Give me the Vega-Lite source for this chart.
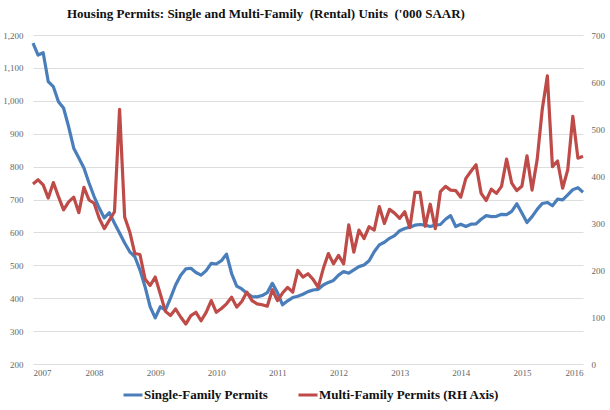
{
  "$schema": "https://vega.github.io/schema/vega-lite/v6.json",
  "autosize": {"type": "none"},
  "width": 550,
  "height": 329,
  "padding": {"left": 33, "top": 35, "right": 27, "bottom": 46},
  "background": "white",
  "title": {
    "text": "Housing Permits: Single and Multi-Family \u00a0(Rental) Units \u00a0('000 SAAR)",
    "font": "Liberation Serif",
    "fontSize": 13,
    "fontWeight": "bold",
    "color": "#111111",
    "anchor": "start",
    "frame": "group",
    "dx": 34,
    "offset": 10
  },
  "config": {
    "font": "Liberation Serif",
    "view": {"stroke": null},
    "axis": {"labelFont": "Liberation Serif", "labelFontSize": 9, "labelColor": "#666666"},
    "legend": {"labelFont": "Liberation Serif", "titleFont": "Liberation Serif"}
  },
  "datasets": {
    "single": [
      {"m": 0, "v": 1175}, {"m": 1, "v": 1139}, {"m": 2, "v": 1146}, {"m": 3, "v": 1058}, {"m": 4, "v": 1043},
      {"m": 5, "v": 997}, {"m": 6, "v": 978}, {"m": 7, "v": 921}, {"m": 8, "v": 856}, {"m": 9, "v": 826},
      {"m": 10, "v": 796}, {"m": 11, "v": 750}, {"m": 12, "v": 709}, {"m": 13, "v": 674}, {"m": 14, "v": 644},
      {"m": 15, "v": 660}, {"m": 16, "v": 628}, {"m": 17, "v": 598}, {"m": 18, "v": 568}, {"m": 19, "v": 541},
      {"m": 20, "v": 526}, {"m": 21, "v": 486}, {"m": 22, "v": 435}, {"m": 23, "v": 374}, {"m": 24, "v": 340},
      {"m": 25, "v": 374}, {"m": 26, "v": 364}, {"m": 27, "v": 400}, {"m": 28, "v": 440}, {"m": 29, "v": 470},
      {"m": 30, "v": 489}, {"m": 31, "v": 491}, {"m": 32, "v": 478}, {"m": 33, "v": 470}, {"m": 34, "v": 484},
      {"m": 35, "v": 506}, {"m": 36, "v": 504}, {"m": 37, "v": 514}, {"m": 38, "v": 534}, {"m": 39, "v": 475},
      {"m": 40, "v": 437}, {"m": 41, "v": 428}, {"m": 42, "v": 415}, {"m": 43, "v": 405}, {"m": 44, "v": 404},
      {"m": 45, "v": 408}, {"m": 46, "v": 417}, {"m": 47, "v": 445}, {"m": 48, "v": 417}, {"m": 49, "v": 380},
      {"m": 50, "v": 392}, {"m": 51, "v": 402}, {"m": 52, "v": 406}, {"m": 53, "v": 412}, {"m": 54, "v": 420},
      {"m": 55, "v": 425}, {"m": 56, "v": 427}, {"m": 57, "v": 440}, {"m": 58, "v": 448}, {"m": 59, "v": 454},
      {"m": 60, "v": 470}, {"m": 61, "v": 481}, {"m": 62, "v": 476}, {"m": 63, "v": 486}, {"m": 64, "v": 496},
      {"m": 65, "v": 501}, {"m": 66, "v": 514}, {"m": 67, "v": 541}, {"m": 68, "v": 562}, {"m": 69, "v": 570},
      {"m": 70, "v": 582}, {"m": 71, "v": 590}, {"m": 72, "v": 605}, {"m": 73, "v": 612}, {"m": 74, "v": 616},
      {"m": 75, "v": 622}, {"m": 76, "v": 624}, {"m": 77, "v": 622}, {"m": 78, "v": 618}, {"m": 79, "v": 622},
      {"m": 80, "v": 624}, {"m": 81, "v": 640}, {"m": 82, "v": 651}, {"m": 83, "v": 618}, {"m": 84, "v": 625},
      {"m": 85, "v": 618}, {"m": 86, "v": 625}, {"m": 87, "v": 626}, {"m": 88, "v": 640}, {"m": 89, "v": 651},
      {"m": 90, "v": 648}, {"m": 91, "v": 649}, {"m": 92, "v": 655}, {"m": 93, "v": 654}, {"m": 94, "v": 664},
      {"m": 95, "v": 687}, {"m": 96, "v": 659}, {"m": 97, "v": 630}, {"m": 98, "v": 648}, {"m": 99, "v": 670},
      {"m": 100, "v": 688}, {"m": 101, "v": 691}, {"m": 102, "v": 681}, {"m": 103, "v": 701}, {"m": 104, "v": 699},
      {"m": 105, "v": 714}, {"m": 106, "v": 730}, {"m": 107, "v": 736}, {"m": 108, "v": 722}
    ],
    "multi": [
      {"m": 0, "v": 383}, {"m": 1, "v": 392}, {"m": 2, "v": 381}, {"m": 3, "v": 353}, {"m": 4, "v": 386},
      {"m": 5, "v": 356}, {"m": 6, "v": 328}, {"m": 7, "v": 345}, {"m": 8, "v": 355}, {"m": 9, "v": 322},
      {"m": 10, "v": 376}, {"m": 11, "v": 349}, {"m": 12, "v": 342}, {"m": 13, "v": 310}, {"m": 14, "v": 288},
      {"m": 15, "v": 306}, {"m": 16, "v": 324}, {"m": 17, "v": 542}, {"m": 18, "v": 313}, {"m": 19, "v": 281},
      {"m": 20, "v": 235}, {"m": 21, "v": 233}, {"m": 22, "v": 181}, {"m": 23, "v": 167}, {"m": 24, "v": 185},
      {"m": 25, "v": 149}, {"m": 26, "v": 112}, {"m": 27, "v": 103}, {"m": 28, "v": 117}, {"m": 29, "v": 100},
      {"m": 30, "v": 85}, {"m": 31, "v": 103}, {"m": 32, "v": 110}, {"m": 33, "v": 92}, {"m": 34, "v": 110},
      {"m": 35, "v": 135}, {"m": 36, "v": 110}, {"m": 37, "v": 118}, {"m": 38, "v": 128}, {"m": 39, "v": 142},
      {"m": 40, "v": 121}, {"m": 41, "v": 133}, {"m": 42, "v": 153}, {"m": 43, "v": 135}, {"m": 44, "v": 128},
      {"m": 45, "v": 126}, {"m": 46, "v": 123}, {"m": 47, "v": 158}, {"m": 48, "v": 135}, {"m": 49, "v": 151},
      {"m": 50, "v": 163}, {"m": 51, "v": 153}, {"m": 52, "v": 199}, {"m": 53, "v": 185}, {"m": 54, "v": 192},
      {"m": 55, "v": 180}, {"m": 56, "v": 163}, {"m": 57, "v": 203}, {"m": 58, "v": 235}, {"m": 59, "v": 213},
      {"m": 60, "v": 231}, {"m": 61, "v": 213}, {"m": 62, "v": 296}, {"m": 63, "v": 238}, {"m": 64, "v": 285},
      {"m": 65, "v": 267}, {"m": 66, "v": 292}, {"m": 67, "v": 285}, {"m": 68, "v": 335}, {"m": 69, "v": 299},
      {"m": 70, "v": 329}, {"m": 71, "v": 321}, {"m": 72, "v": 310}, {"m": 73, "v": 324}, {"m": 74, "v": 290},
      {"m": 75, "v": 365}, {"m": 76, "v": 365}, {"m": 77, "v": 293}, {"m": 78, "v": 340}, {"m": 79, "v": 288},
      {"m": 80, "v": 367}, {"m": 81, "v": 378}, {"m": 82, "v": 370}, {"m": 83, "v": 369}, {"m": 84, "v": 355},
      {"m": 85, "v": 395}, {"m": 86, "v": 410}, {"m": 87, "v": 424}, {"m": 88, "v": 363}, {"m": 89, "v": 348},
      {"m": 90, "v": 372}, {"m": 91, "v": 363}, {"m": 92, "v": 378}, {"m": 93, "v": 436}, {"m": 94, "v": 385},
      {"m": 95, "v": 369}, {"m": 96, "v": 378}, {"m": 97, "v": 443}, {"m": 98, "v": 370}, {"m": 99, "v": 435},
      {"m": 100, "v": 542}, {"m": 101, "v": 613}, {"m": 102, "v": 420}, {"m": 103, "v": 432}, {"m": 104, "v": 374},
      {"m": 105, "v": 413}, {"m": 106, "v": 527}, {"m": 107, "v": 438}, {"m": 108, "v": 442}
    ]
  },
  "layer": [
    {
      "data": {"name": "single"},
      "transform": [{"calculate": "'Single-Family Permits'", "as": "series"}],
      "mark": {"type": "line", "strokeWidth": 3.2, "strokeJoin": "round"},
      "encoding": {
        "x": {
          "field": "m", "type": "quantitative",
          "scale": {"domain": [0, 108], "nice": false},
          "axis": {"title": null, "values": [0, 12, 24, 36, 48, 60, 72, 84, 96, 108], "labelExpr": "2007 + datum.value / 12", "grid": false, "domain": false, "ticks": false, "labelPadding": 4}
        },
        "y": {
          "field": "v", "type": "quantitative",
          "scale": {"domain": [200, 1200], "nice": false, "zero": false},
          "axis": {"title": null, "orient": "left", "values": [200, 300, 400, 500, 600, 700, 800, 900, 1000, 1100, 1200], "format": ",.0f", "domain": false, "ticks": false, "grid": true, "gridColor": "#dddddd", "gridWidth": 1, "labelPadding": 10}
        },
        "color": {
          "field": "series", "type": "nominal",
          "scale": {"domain": ["Single-Family Permits", "Multi-Family Permits (RH Axis)"], "range": ["#4a7ebb", "#be4b48"]},
          "legend": {
            "title": null, "orient": "none", "legendX": 89, "legendY": 349, "direction": "horizontal",
            "symbolType": "stroke", "symbolStrokeWidth": 3, "symbolSize": 361,
            "labelFont": "Liberation Serif", "labelFontSize": 13, "labelFontWeight": "bold", "labelColor": "#111111",
            "labelOffset": 0, "columnPadding": 24, "labelLimit": 300
          }
        }
      }
    },
    {
      "data": {"name": "multi"},
      "transform": [{"calculate": "'Multi-Family Permits (RH Axis)'", "as": "series"}],
      "mark": {"type": "line", "strokeWidth": 3.2, "strokeJoin": "round"},
      "encoding": {
        "x": {"field": "m", "type": "quantitative"},
        "y": {
          "field": "v", "type": "quantitative",
          "scale": {"domain": [0, 700], "nice": false},
          "axis": {"title": null, "orient": "right", "values": [0, 100, 200, 300, 400, 500, 600, 700], "domain": false, "ticks": false, "grid": false, "labelPadding": 8}
        },
        "color": {"field": "series", "type": "nominal"}
      }
    }
  ],
  "resolve": {"scale": {"y": "independent"}}
}
